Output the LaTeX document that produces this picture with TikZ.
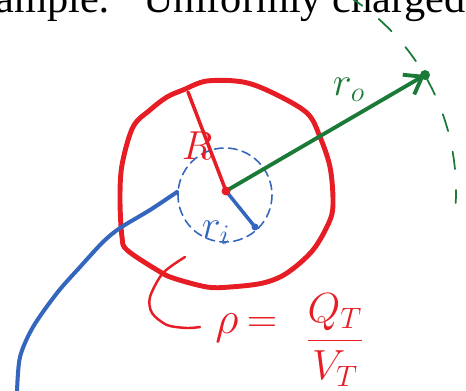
\RequirePackage{fix-cm}
\documentclass[tikz,border=0pt]{standalone}
\usepackage{amsmath}
\usepackage{fontspec}
\usepackage{tikz}
\usetikzlibrary{arrows.meta}
\newfontfamily\titlefont{Liberation Serif}
\definecolor{penred}{RGB}{231,29,37}
\definecolor{penblue}{RGB}{52,102,190}
\definecolor{pengreen}{RGB}{27,122,55}
\begin{document}
\begin{tikzpicture}[x=0.02cm, y=-0.02cm, >={Straight Barb[length=9pt,width=13pt]}, line cap=round, line join=round]
	\useasboundingbox (0,0) rectangle (466,391);
	\clip (0,0) rectangle (466,391);
	
	% ========== 标题 ==========
	\node[anchor=base west, inner sep=0pt, font=\titlefont\fontsize{24.1}{29}\selectfont] (ttlA) at (-52,12.5) {Example:};
	\node[anchor=base west, inner sep=0pt, font=\titlefont\fontsize{24.1}{29}\selectfont] (ttlB) at (143,12.5) {Uniformly charged};
	
	% ========== 球体 ==========
	\coordinate (ctr) at (226,191);
	\coordinate (ictr) at (225,195);
	\coordinate (Rtop) at (188,92);
	\coordinate (ri) at (255,227);
	\coordinate (tip) at (425,75);
	
	\draw[penblue, line width=0.9pt, dash pattern=on 5pt off 3pt] (ictr) circle (47);
	\draw[penred, line width=2.8pt] plot[smooth cycle, tension=0.55] coordinates {
		(183,90) (207,81) (243,82) (273,93) (307,113) (320,137) (330,167) (333,200)
		(330,220) (313,250) (287,273) (263,283) (230,287) (207,287) (173,278) (157,270)
		(127,250) (122,237) (120,200) (122,165) (133,127) (150,110) (167,97)};
	\draw[penred, line width=2pt] (Rtop) -- (ctr);
	\node[penred, font=\fontsize{23}{27}\selectfont] (Rlbl) at (197,146) {$R$};
	
	\draw[penblue, line width=2pt] (ctr) -- (ri);
	\fill[penblue] (ri) circle (3.5);
	\node[penblue, font=\fontsize{23}{27}\selectfont] (rilbl) at (216,233) {$r_i$};
	
	% ========== 场点 ==========
	\draw[->, pengreen, line width=2.2pt] (ctr) -- (tip);
	\fill[pengreen] (tip) circle (5);
	\fill[penred] (ctr) circle (4.5);
	\node[pengreen, font=\fontsize{23}{27}\selectfont] (rolbl) at (349,90) {$r_o$};
	\draw[pengreen, line width=1pt, dash pattern=on 10pt off 12pt] ([shift={(-58:230)}]ctr) arc[start angle=-58, end angle=3, radius=230];
	
	% 路径
	\draw[penblue, line width=2.3pt] plot[smooth] coordinates {
		(17,392) (20,357) (33,327) (57,293) (80,267) (103,242) (120,228) (150,210) (177,192)};
	
	% ========== 电荷密度 ==========
	\draw[penred, line width=1.4pt] plot[smooth] coordinates {
		(185,257) (163,273) (150,297) (152,313) (167,325) (187,328) (200,327)};
	\node[penred, anchor=base, font=\fontsize{26}{30}\selectfont] (rho) at (227,333) {$\rho$};
	\node[penred, font=\fontsize{24}{28}\selectfont] (eq) at (262,325) {$=$};
	\node[penred, font=\fontsize{24}{28}\selectfont] (frac) at (335,340) {$\dfrac{Q_T}{V_T}$};
\end{tikzpicture}
\end{document}
